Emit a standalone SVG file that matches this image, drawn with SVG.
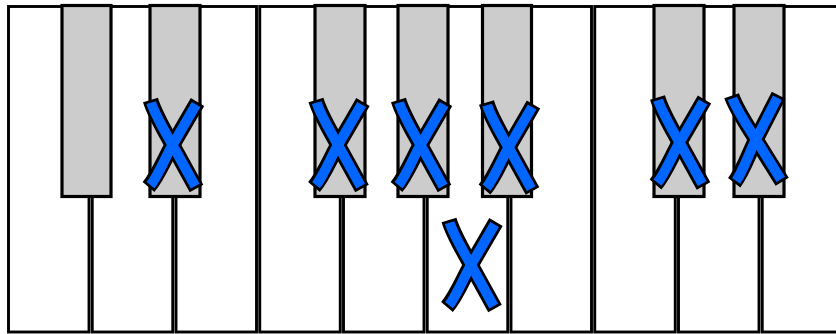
<svg xmlns="http://www.w3.org/2000/svg" xmlns:xlink="http://www.w3.org/1999/xlink" width="836" height="334" viewBox="0 0 836 334">
<style>
.white{fill:#ffffff;stroke:#000000;stroke-width:2.9}
.black{fill:#cccccc;stroke:#000000;stroke-width:3.2}
.xo{fill:none;stroke:#000000;stroke-width:15.5;stroke-linecap:butt;stroke-linejoin:round}
.xi{fill:none;stroke:#0066ff;stroke-width:10;stroke-linecap:butt;stroke-linejoin:round}
</style>
<defs>
<g id="xmark">
<path class="xo" d="M -23.5,-46 C -19.5,-32 -8.5,-13.7 -1.5,-1 L 22.5,42.5"/>
<path class="xo" d="M 23.5,-44 L -1.5,-1 C -8.5,11 -16,30 -25.5,41"/>
<path class="xi" d="M -22.8,-43.4 C -19.5,-32 -8.5,-13.7 -1.5,-1 L 21.2,40.1"/>
<path class="xi" d="M 22.1,-41.6 L -1.5,-1 C -8.5,11 -16,30 -23.5,39.2"/>
</g>
</defs>
<rect width="836" height="334" fill="#ffffff"/>
<g id="white-keys">
<rect id="w0" class="white" x="8.5" y="6.5" width="80.5" height="325.5"/>
<rect id="w1" class="white" x="92.25" y="6.5" width="80.5" height="325.5"/>
<rect id="w2" class="white" x="176" y="6.5" width="80.5" height="325.5"/>
<rect id="w3" class="white" x="259.75" y="6.5" width="80.5" height="325.5"/>
<rect id="w4" class="white" x="343.5" y="6.5" width="80.5" height="325.5"/>
<rect id="w5" class="white" x="427.25" y="6.5" width="80.5" height="325.5"/>
<rect id="w6" class="white" x="511" y="6.5" width="80.5" height="325.5"/>
<rect id="w7" class="white" x="594.75" y="6.5" width="80.5" height="325.5"/>
<rect id="w8" class="white" x="678.5" y="6.5" width="80.5" height="325.5"/>
<rect id="w9" class="white" x="762.25" y="6.5" width="120" height="325.5"/>
</g>
<g id="black-keys">
<rect id="b0" class="black" x="62" y="5.5" width="49" height="191"/>
<rect id="b1" class="black" x="150" y="5.5" width="50" height="191"/>
<rect id="b2" class="black" x="315" y="5.5" width="50" height="191"/>
<rect id="b3" class="black" x="398" y="5.5" width="50" height="191"/>
<rect id="b4" class="black" x="482.5" y="5.5" width="49" height="191"/>
<rect id="b5" class="black" x="654" y="5.5" width="50" height="191"/>
<rect id="b6" class="black" x="734" y="5.5" width="50" height="191"/>
</g>
<g id="marks">
<use id="x1" xlink:href="#xmark" href="#xmark" transform="translate(174,146)"/>
<use id="x2" xlink:href="#xmark" href="#xmark" transform="translate(339.5,146)"/>
<use id="x3" xlink:href="#xmark" href="#xmark" transform="translate(422,146)"/>
<use id="x4" xlink:href="#xmark" href="#xmark" transform="translate(510,148.5)"/>
<use id="x5" xlink:href="#xmark" href="#xmark" transform="translate(472.5,266)"/>
<use id="x6" xlink:href="#xmark" href="#xmark" transform="translate(681,143.5)"/>
<use id="x7" xlink:href="#xmark" href="#xmark" transform="translate(757.5,140.5) rotate(-3)"/>
</g>
</svg>
